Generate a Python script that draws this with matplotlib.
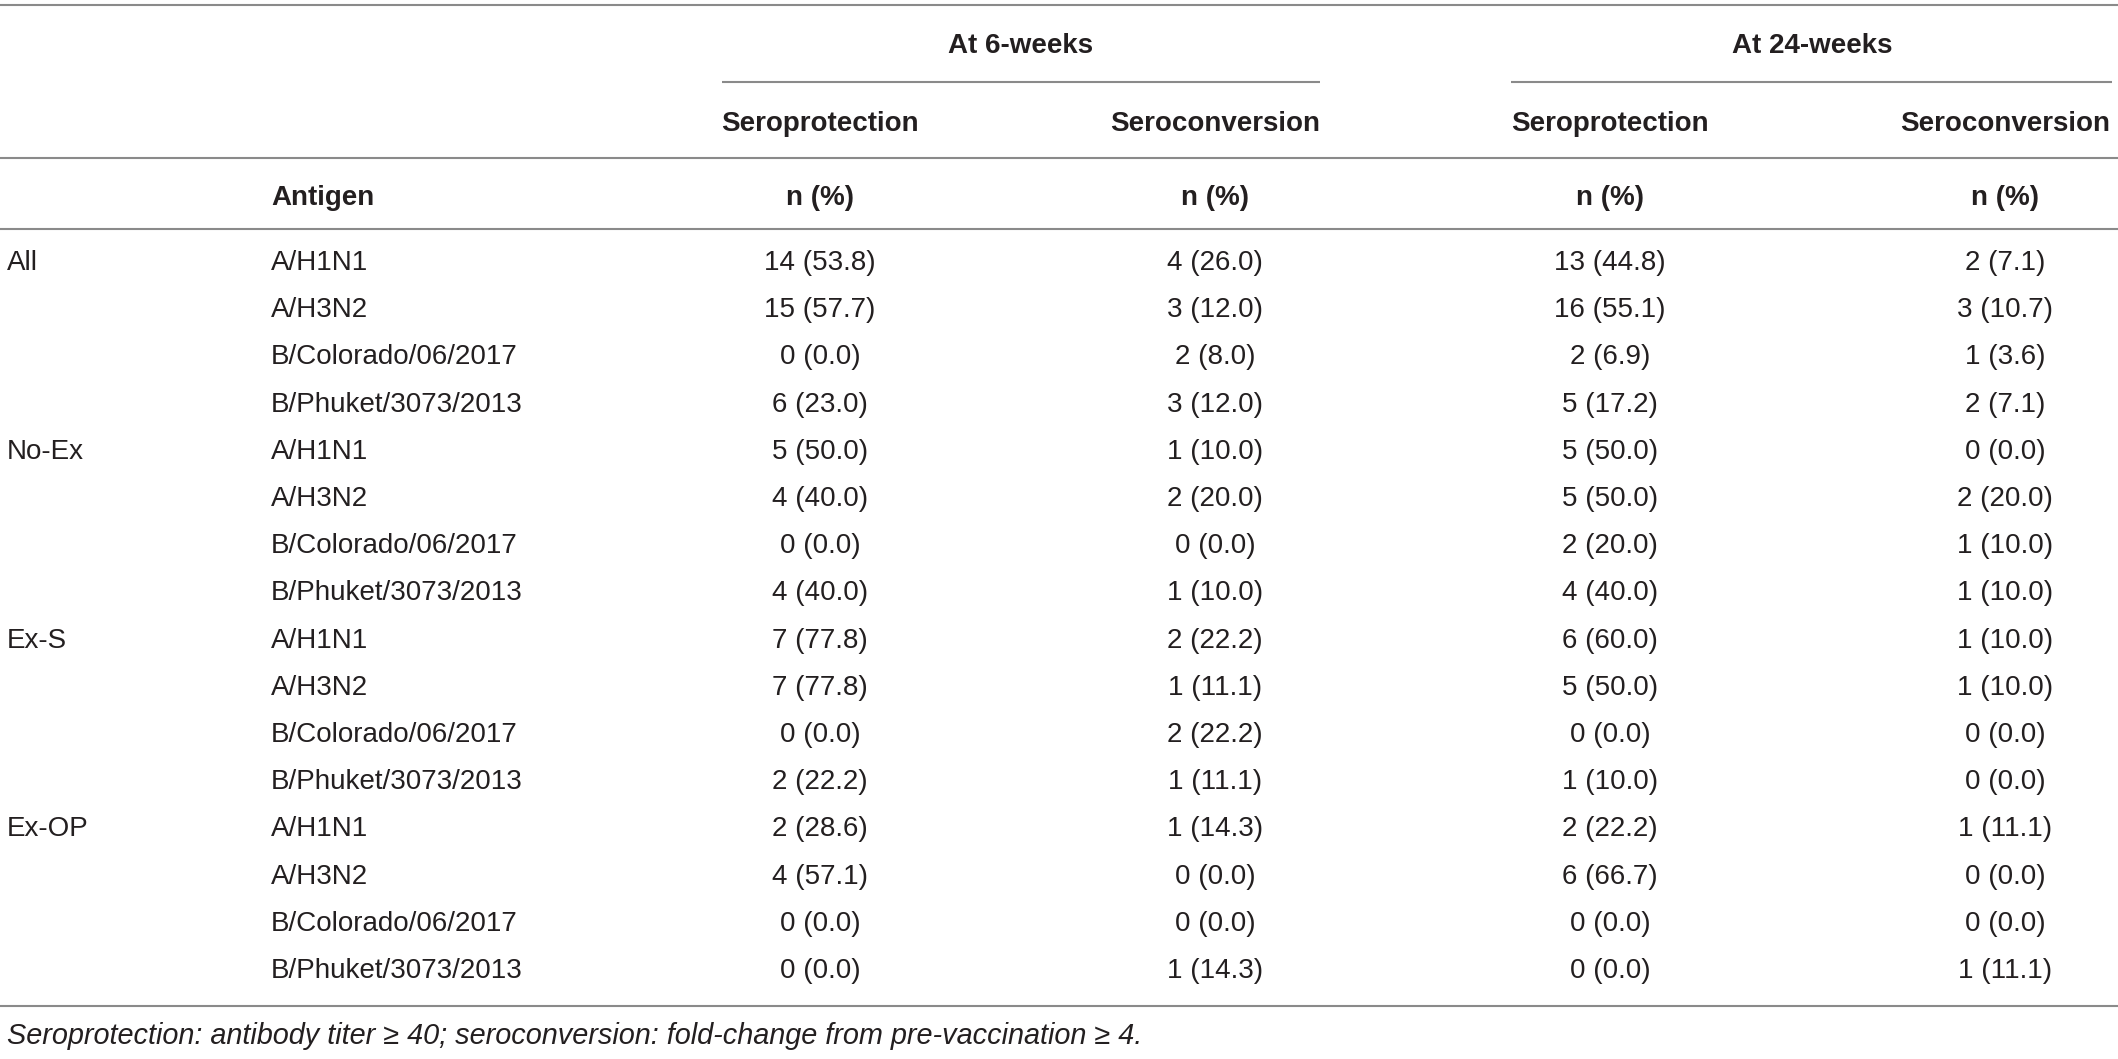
import matplotlib
matplotlib.use('Agg')
import matplotlib.pyplot as plt

# table data
groups = ['All', 'No-Ex', 'Ex-S', 'Ex-OP']
antigens = ['A/H1N1', 'A/H3N2', 'B/Colorado/06/2017', 'B/Phuket/3073/2013']

# seroprotection / seroconversion at 6 and 24 weeks, rows in group order
sp6_n = [14, 15, 0, 6, 5, 4, 0, 4, 7, 7, 0, 2, 2, 4, 0, 0]
sp6_pct = [53.8, 57.7, 0.0, 23.0, 50.0, 40.0, 0.0, 40.0, 77.8, 77.8, 0.0, 22.2, 28.6, 57.1, 0.0, 0.0]
sc6_n = [4, 3, 2, 3, 1, 2, 0, 1, 2, 1, 2, 1, 1, 0, 0, 1]
sc6_pct = [26.0, 12.0, 8.0, 12.0, 10.0, 20.0, 0.0, 10.0, 22.2, 11.1, 22.2, 11.1, 14.3, 0.0, 0.0, 14.3]
sp24_n = [13, 16, 2, 5, 5, 5, 2, 4, 6, 5, 0, 1, 2, 6, 0, 0]
sp24_pct = [44.8, 55.1, 6.9, 17.2, 50.0, 50.0, 20.0, 40.0, 60.0, 50.0, 0.0, 10.0, 22.2, 66.7, 0.0, 0.0]
sc24_n = [2, 3, 1, 2, 0, 2, 1, 1, 1, 1, 0, 0, 1, 0, 0, 1]
sc24_pct = [7.1, 10.7, 3.6, 7.1, 0.0, 20.0, 10.0, 10.0, 10.0, 10.0, 0.0, 0.0, 11.1, 0.0, 0.0, 11.1]

time_labels = ['At 6-weeks', 'At 24-weeks']
measure_labels = ['Seroprotection', 'Seroconversion', 'Seroprotection', 'Seroconversion']
footnote = ('Seroprotection: antibody titer \u2265 40; seroconversion: '
            'fold-change from pre-vaccination \u2265 4.')

plt.rcParams['font.family'] = ['Liberation Sans', 'DejaVu Sans']

W, H = 2118, 1059
fig = plt.figure(figsize=(W / 100, H / 100), dpi=100)
ax = fig.add_axes([0, 0, 1, 1])
ax.set_xlim(0, W)
ax.set_ylim(H, 0)
ax.axis('off')

txt_col = '#231f20'
line_col = '#8a8a8a'
fs = 20
cap = 10  # half cap height in px, so text can sit on a baseline

def put(x, y, s, ha='left', weight='normal', style='normal', size=fs):
    ax.text(x, y + cap, s, ha=ha, va='baseline', fontsize=size,
            color=txt_col, fontweight=weight, fontstyle=style)

def hline(y, x0=0, x1=W):
    ax.plot([x0, x1], [y, y], color=line_col, linewidth=1.5, solid_capstyle='butt')

col_x = [820, 1215, 1610, 2005]
group_x = 7
antigen_x = 271

# header rules
hline(5)
hline(82, 722, 1320)
hline(82, 1511, 2112)
hline(158)
hline(229)

put(1021, 43, time_labels[0], ha='center', weight='bold')
put(1812, 43, time_labels[1], ha='center', weight='bold')
for x, lab in zip(col_x, measure_labels):
    put(x, 121, lab, ha='center', weight='bold')
put(antigen_x, 195, 'Antigen', weight='bold')
for x in col_x:
    put(x, 195, 'n (%)', ha='center', weight='bold')

# body rows
row0, pitch = 260, 47.2
columns = [(sp6_n, sp6_pct), (sc6_n, sc6_pct), (sp24_n, sp24_pct), (sc24_n, sc24_pct)]
for i in range(len(groups) * len(antigens)):
    y = row0 + i * pitch
    if i % len(antigens) == 0:
        put(group_x, y, groups[i // len(antigens)])
    put(antigen_x, y, antigens[i % len(antigens)])
    for x, (ns, pcts) in zip(col_x, columns):
        put(x, y, f'{ns[i]} ({pcts[i]:.1f})', ha='center')

hline(1006)
put(group_x, 1034, footnote, style='italic', size=20.8)

fig.savefig('out.png', dpi=100)
